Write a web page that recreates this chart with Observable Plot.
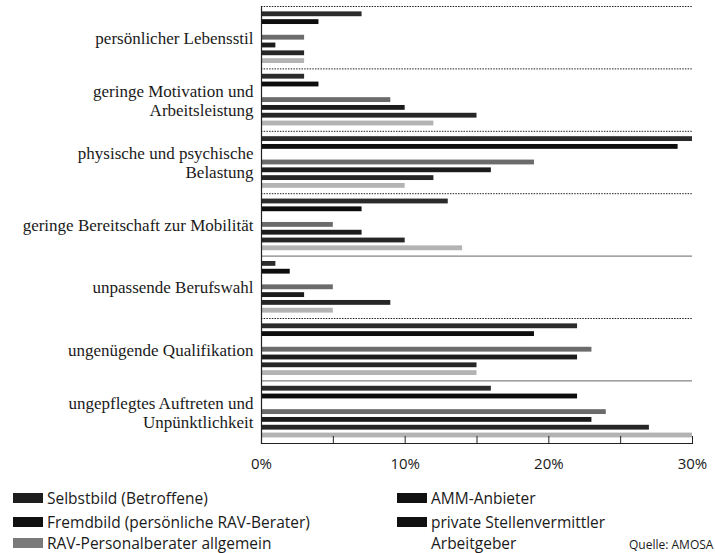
<!DOCTYPE html>
<html><head><meta charset="utf-8">
<script src="https://cdn.jsdelivr.net/npm/d3@7"></script>
<script src="https://cdn.jsdelivr.net/npm/@observablehq/plot@0.6"></script>
<style>
body{margin:0;background:#fff;width:715px;height:553px;overflow:hidden;}
#legend{position:relative;width:715px;height:73px;font-family:"Open Sans",Roboto,sans-serif;font-size:15.5px;color:#1a1a1a;}
.item{position:absolute;height:20px;line-height:20px;white-space:nowrap;}
.sw{position:absolute;width:30px;height:10px;top:5px;}
.src{position:absolute;font-size:12px;line-height:20px;white-space:nowrap;}
</style></head><body><div id="chart"></div><div id="legend"></div>
<script>
const categories = [
  "persönlicher Lebensstil",
  "geringe Motivation und\nArbeitsleistung",
  "physische und psychische\nBelastung",
  "geringe Bereitschaft zur Mobilität",
  "unpassende Berufswahl",
  "ungenügende Qualifikation",
  "ungepflegtes Auftreten und\nUnpünktlichkeit"
];
const seriesNames = [
  "Selbstbild (Betroffene)",
  "Fremdbild (persönliche RAV-Berater)",
  "RAV-Personalberater allgemein",
  "AMM-Anbieter",
  "private Stellenvermittler",
  "Arbeitgeber"
];
const selbstbild        = [7, 3, 30, 13, 1, 22, 16];
const fremdbild         = [4, 4, 29, 7, 2, 19, 22];
const ravAllgemein      = [3, 9, 19, 5, 5, 23, 24];
const ammAnbieter       = [1, 10, 16, 7, 3, 22, 23];
const privateVermittler = [3, 15, 12, 10, 9, 15, 27];
const arbeitgeber       = [3, 12, 10, 14, 5, 15, 30];
const xTicks = [0, 5, 10, 15, 20, 25, 30];
const xLabels = [0, 10, 20, 30];
const source = "Quelle: AMOSA";

const barColors = ["#2b2b2b", "#0d0d0d", "#6b6b6b", "#1c1c1c", "#262626", "#b3b3b3"];
const swatchColors = ["#1e1e1e", "#111", "#7a7a7a", "#111", "#111", null];

const allSeries = [selbstbild, fremdbild, ravAllgemein, ammAnbieter, privateVermittler, arbeitgeber];
const rows = [];
categories.forEach((c, ci) => allSeries.forEach((arr, si) => rows.push({ci, si, series: seriesNames[si], value: arr[ci]})));

// slot keys: separator, two self/peer bars, gap, four other bars
const slotOrder = ["sep", "0", "1", "gap", "2", "3", "4", "5"];
const yDomain = categories.flatMap((c, ci) => slotOrder.map(s => `${ci}|${s}`));
const cIdx = categories.map((c, i) => i);

const plot = Plot.plot({
  width: 715,
  height: 480,
  marginTop: 6,
  marginLeft: 261,
  marginRight: 23,
  marginBottom: 37,
  style: {fontFamily: "'Open Sans', Roboto, sans-serif", background: "#fff"},
  x: {domain: [0, 30], axis: null, label: null},
  y: {domain: yDomain, range: [2.1, 438.9], paddingInner: 0.38, paddingOuter: 0.19, axis: null},
  color: {domain: seriesNames, range: barColors},
  marks: [
    Plot.ruleY(cIdx.filter(i => i !== 4 && i !== 6), {y: i => `${i}|sep`, stroke: "#222", strokeWidth: 1, strokeDasharray: "1.5,1.2"}),
    Plot.ruleY(cIdx.filter(i => i === 4 || i === 6), {y: i => `${i}|sep`, stroke: "#555", strokeWidth: 0.9}),
    Plot.barX(rows, {x: "value", y: d => `${d.ci}|${d.si}`, fill: "series"}),
    Plot.text(categories, {
      y: (d, i) => `${i}|2`, text: d => d, frameAnchor: "left", textAnchor: "end", dx: -8, dy: 0,
      fontFamily: "'Liberation Serif', 'DejaVu Serif', serif", fontSize: 17, lineHeight: 1.12, fill: "#1a1a1a"
    }),
    Plot.frame({anchor: "left", stroke: "#222", strokeWidth: 1.2}),
    Plot.frame({anchor: "bottom", stroke: "#222", strokeWidth: 1.2}),
    Plot.axisX(xTicks, {tickSize: -7, tickFormat: () => "", stroke: "#222", label: null}),
    Plot.axisX(xLabels, {tickSize: 0, tickPadding: 15, tickFormat: d => d + "%", fontSize: 15, fill: "#1a1a1a", label: null})
  ]
});
document.getElementById("chart").appendChild(plot);

const legend = document.getElementById("legend");
const pos = [
  {sx: 13, tx: 47, top: 8}, {sx: 13, tx: 47, top: 32}, {sx: 13, tx: 47, top: 53},
  {sx: 397, tx: 431, top: 8}, {sx: 397, tx: 431, top: 32}, {sx: 397, tx: 431, top: 53}
];
seriesNames.forEach((name, i) => {
  const p = pos[i];
  if (swatchColors[i]) {
    const sw = document.createElement("div");
    sw.className = "sw";
    sw.style.left = p.sx + "px";
    sw.style.top = (p.top + 5) + "px";
    sw.style.background = swatchColors[i];
    legend.appendChild(sw);
  }
  const t = document.createElement("div");
  t.className = "item";
  t.style.left = p.tx + "px";
  t.style.top = p.top + "px";
  t.textContent = name;
  legend.appendChild(t);
});
const src = document.createElement("div");
src.className = "src";
src.style.left = "629px";
src.style.top = "55px";
src.textContent = source;
legend.appendChild(src);
</script>
</body></html>
